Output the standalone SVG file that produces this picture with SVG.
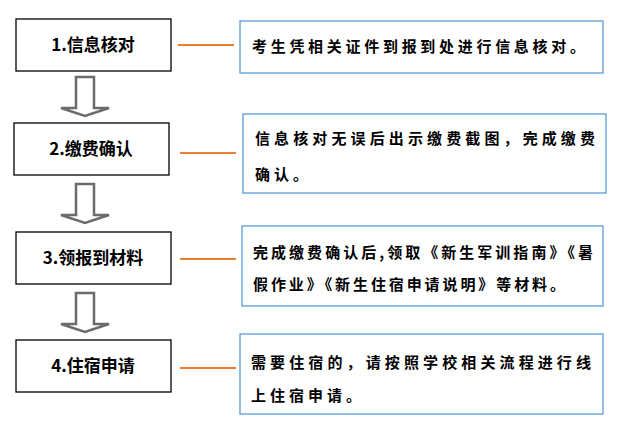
<svg xmlns="http://www.w3.org/2000/svg" width="631" height="437" viewBox="0 0 631 437">
<defs><style>
.l{fill:#fff;stroke:#000;stroke-width:1.3}
.r{fill:#fff;stroke:#5b9bd5;stroke-width:1.3}
.c{stroke:#ed7d31;stroke-width:2.2}
.a{fill:#fff;stroke:#6b6b6b;stroke-width:2.5}
text{font-family:"Noto Sans CJK SC",sans-serif;font-weight:bold;fill:#000}
.t{font-size:17px;text-anchor:middle}
.s{font-size:15px}
.w{letter-spacing:4px}
</style>
<polygon id="arr" class="a" points="-9,0 9,0 9,31 24,31 0,39 -24,31 -9,31"/></defs>
<rect width="631" height="437" fill="#fff"/>
<g id="arrows"><use href="#arr" x="85" y="77"/><use href="#arr" x="85" y="184"/><use href="#arr" x="85" y="293"/></g>
<g id="connectors"><line class="c" x1="178" y1="45" x2="234" y2="45"/><line class="c" x1="180" y1="153" x2="236" y2="153"/><line class="c" x1="180" y1="259" x2="236" y2="259"/><line class="c" x1="180" y1="368" x2="236" y2="368"/></g>
<g id="n1"><rect class="l" x="16" y="19" width="155" height="52"/><text class="t" x="93" y="51">1.信息核对</text></g>
<g id="n2"><rect class="l" x="14" y="123" width="155" height="52"/><text class="t" x="91" y="155">2.缴费确认</text></g>
<g id="n3"><rect class="l" x="16" y="232" width="155" height="52"/><text class="t" x="93" y="264">3.领报到材料</text></g>
<g id="n4"><rect class="l" x="16" y="340" width="155" height="52"/><text class="t" x="93" y="372">4.住宿申请</text></g>
<g id="d1"><rect class="r" x="240" y="21" width="363" height="52"/><text class="s" x="252" y="52" textLength="333">考生凭相关证件到报到处进行信息核对。</text></g>
<g id="d2"><rect class="r" x="243" y="114" width="363" height="79"/><text class="s" x="255" y="144" textLength="340">信息核对无误后出示缴费截图，完成缴费</text><text class="s w" x="255" y="180">确认。</text></g>
<g id="d3"><rect class="r" x="242" y="226" width="361" height="80"/><text class="s" x="253" y="258" textLength="340">完成缴费确认后,领取《新生军训指南》《暑</text><text class="s" x="253" y="290" textLength="312">假作业》《新生住宿申请说明》等材料。</text></g>
<g id="d4"><rect class="r" x="240" y="334" width="363" height="80"/><text class="s" x="251" y="368" textLength="340">需要住宿的，请按照学校相关流程进行线</text><text class="s w" x="251" y="401">上住宿申请。</text></g>
</svg>
